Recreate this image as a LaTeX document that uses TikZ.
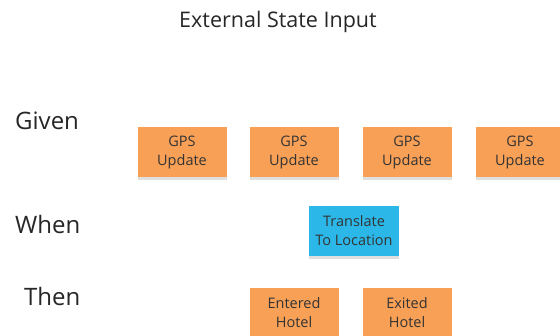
\documentclass[tikz,border=0pt]{standalone}
\usepackage{fontspec}
\setmainfont{Open Sans}
\usetikzlibrary{shadows}
\definecolor{stickyorange}{HTML}{F9A057}
\definecolor{stickyblue}{HTML}{2BB8E8}
\definecolor{inktext}{HTML}{333333}

\tikzset{
  sticky/.style={minimum width=89pt,minimum height=50pt,inner sep=2pt,
    align=center,text=inktext,font=\fontsize{14.5}{19}\selectfont,
    drop shadow={shadow xshift=0pt,shadow yshift=-3pt,opacity=0.25}},
  event/.style={sticky,fill=stickyorange},
  command/.style={sticky,fill=stickyblue},
  rowlabel/.style={anchor=west,inner sep=0pt,text=black!85,font=\fontsize{24}{28}\selectfont}
}

\begin{document}
\begin{tikzpicture}[x=1pt,y=-1pt]
  \useasboundingbox (0,0) rectangle (560,335);
  \node[text=black!85,font=\fontsize{21.5}{25}\selectfont] (title) at (278,22) {External State Input};

  \node[rowlabel] (given) at (15,121) {Given};
  \node[rowlabel] (when) at (15,224) {When};
  \node[rowlabel] (then) at (24,296) {Then};

  \foreach \i/\x in {1/182,2/294,3/407,4/520}
    {
    \node[event] (gps\i) at (\x,152) {GPS\\Update};
    }

  \node[command,minimum width=90pt] (translate) at (354,231) {Translate\\To Location};

  \node[event] (entered) at (294,313) {Entered\\Hotel};
  \node[event] (exited) at (407,313) {Exited\\Hotel};
\end{tikzpicture}
\end{document}
